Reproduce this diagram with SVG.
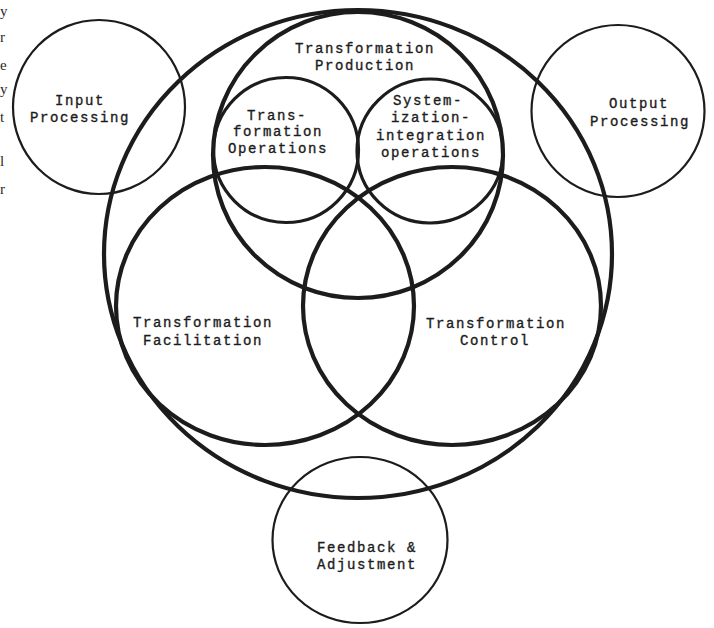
<svg xmlns="http://www.w3.org/2000/svg" width="714" height="628" viewBox="0 0 714 628">
  <style>
    .ring { fill: none; stroke: #1c1c1c; }
    .heavy { stroke-width: 4.2; }
    .mid { stroke-width: 3.2; }
    .thin { stroke-width: 2.2; }
    .lbl { font-family: "Liberation Mono", "DejaVu Sans Mono", monospace; font-size: 14px; letter-spacing: 1.6px; fill: #1c1c1c; stroke: #1c1c1c; stroke-width: 0.35; text-anchor: middle; }
    .edge { font-family: "Liberation Serif", serif; font-size: 15px; fill: #2a2a2a; }
  </style>
  <rect width="714" height="628" fill="#ffffff"/>

  <!-- fragments of neighbouring page text along the left margin -->
  <g id="margin-text" class="edge">
    <text x="0" y="16">y</text>
    <text x="0" y="42">r</text>
    <text x="0" y="70">e</text>
    <text x="0" y="94">y</text>
    <text x="0" y="122">t</text>
    <text x="0" y="166">l</text>
    <text x="0" y="194">r</text>
  </g>

  <!-- whole transformation system -->
  <g id="system">
    <ellipse class="ring heavy" cx="358" cy="254" rx="254" ry="244"/>
  </g>

  <g id="input-processing">
    <ellipse class="ring thin" cx="99" cy="107" rx="86" ry="87"/>
    <text class="lbl" x="80" y="105">Input</text>
    <text class="lbl" x="80" y="122">Processing</text>
  </g>

  <g id="output-processing">
    <ellipse class="ring thin" cx="618" cy="111" rx="86.5" ry="86"/>
    <text class="lbl" x="639" y="108">Output</text>
    <text class="lbl" x="640" y="126">Processing</text>
  </g>

  <g id="feedback-adjustment">
    <ellipse class="ring thin" cx="360" cy="540" rx="87.5" ry="83"/>
    <text class="lbl" x="367" y="552">Feedback &amp;</text>
    <text class="lbl" x="367" y="569">Adjustment</text>
  </g>

  <g id="transformation-production">
    <ellipse class="ring heavy" cx="358" cy="155" rx="145" ry="143"/>
    <text class="lbl" x="365" y="53">Transformation</text>
    <text class="lbl" x="365" y="70">Production</text>
  </g>

  <g id="transformation-operations">
    <ellipse class="ring mid" cx="286" cy="150" rx="72.5" ry="72.5"/>
    <text class="lbl" x="277" y="120">Trans-</text>
    <text class="lbl" x="278" y="136">formation</text>
    <text class="lbl" x="278" y="153">Operations</text>
  </g>

  <g id="systemization-integration">
    <ellipse class="ring mid" cx="430" cy="151" rx="73" ry="72"/>
    <text class="lbl" x="428" y="105">System-</text>
    <text class="lbl" x="431" y="122">ization-</text>
    <text class="lbl" x="431" y="140">integration</text>
    <text class="lbl" x="431" y="157">operations</text>
  </g>

  <g id="transformation-facilitation">
    <ellipse class="ring heavy" cx="265" cy="306" rx="149" ry="139"/>
    <text class="lbl" x="203" y="327">Transformation</text>
    <text class="lbl" x="203" y="345">Facilitation</text>
  </g>

  <g id="transformation-control">
    <ellipse class="ring heavy" cx="452" cy="306" rx="149" ry="139"/>
    <text class="lbl" x="496" y="328">Transformation</text>
    <text class="lbl" x="495" y="345">Control</text>
  </g>

  <!-- no connectors: the parts are related by overlap only -->
  <g id="connectors"/>
</svg>
